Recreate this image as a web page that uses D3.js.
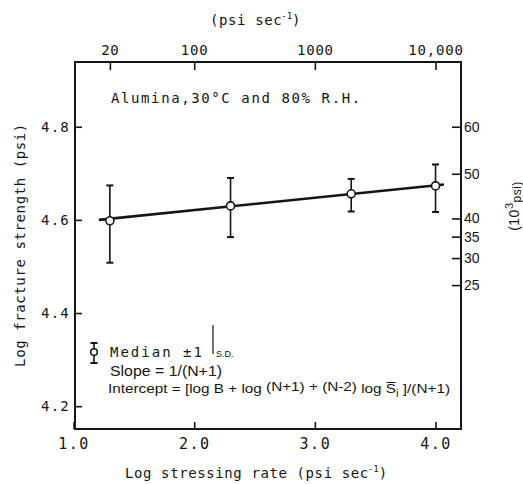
<!DOCTYPE html>
<html>
<head>
<meta charset="utf-8">
<script src="https://cdn.jsdelivr.net/npm/d3@7"></script>
<style>
	body { margin: 0; background: #fff; }
	svg text { fill: #151515; }
	.mono { font-family: "DejaVu Sans Mono", "Liberation Mono", monospace; }
	.sans { font-family: "Liberation Sans", "DejaVu Sans", sans-serif; }
	.axis path.domain { display: none; }
	.axis line { stroke: #151515; stroke-width: 1.6; }
</style>
</head>
<body>
<div id="chart"></div>
<script>
// median log fracture strength and +/- 1 S.D. at each stressing rate
const logRate = [1.301, 2.301, 3.301, 4.0];
const medianStrength = [4.598, 4.630, 4.656, 4.673];
const sdHigh = [4.674, 4.690, 4.688, 4.719];
const sdLow = [4.508, 4.563, 4.618, 4.617];

// fitted line (end points)
const fitRate = [1.21, 4.07];
const fitStrength = [4.600, 4.676];

// ticks
const bottomTicks = [1.0, 2.0, 3.0, 4.0];
const leftTicks = [4.2, 4.4, 4.6, 4.8];
const topTicks = [20, 100, 1000, 10000];
const topTickLabels = ["20", "100", "1000", "10,000"];
// right axis (10^3 psi) - labels and where they sit on the log strength scale, as drawn
const rightTickLabels = ["60", "50", "40", "35", "30", "25"];
const rightTickAt = [4.800, 4.699, 4.603, 4.564, 4.518, 4.460];

const width = 523, height = 484;
const margin = { top: 62, right: 62, bottom: 55, left: 75 };
const innerW = width - margin.left - margin.right;
const innerH = height - margin.top - margin.bottom;

const svg = d3.select("#chart").append("svg")
	.attr("width", width)
	.attr("height", height);

const x = d3.scaleLinear()
	.domain([1.012, 4.211])
	.range([margin.left, margin.left + innerW]);

const xTop = d3.scaleLog()
	.domain([Math.pow(10, 1.012), Math.pow(10, 4.211)])
	.range([margin.left, margin.left + innerW]);

const y = d3.scaleLinear()
	.domain([4.151, 4.939])
	.range([margin.top + innerH, margin.top]);

// axes (ticks point inward)
svg.append("g")
	.attr("class", "axis mono")
	.attr("transform", "translate(0," + (margin.top + innerH) + ")")
	.call(d3.axisBottom(x).tickValues(bottomTicks).tickSize(-7).tickPadding(9).tickFormat(d3.format(".1f")))
	.call(g => g.selectAll("text").attr("font-size", 15).attr("letter-spacing", 1.5).attr("font-family", null));

svg.append("g")
	.attr("class", "axis mono")
	.attr("transform", "translate(" + margin.left + ",0)")
	.call(d3.axisLeft(y).tickValues(leftTicks).tickSize(-7).tickPadding(5).tickFormat(d3.format(".1f")))
	.call(g => g.selectAll("text").attr("font-size", 14).attr("letter-spacing", 1.2).attr("font-family", null));

svg.append("g")
	.attr("class", "axis mono")
	.attr("transform", "translate(0," + margin.top + ")")
	.call(d3.axisTop(xTop).tickValues(topTicks).tickSize(-8).tickPadding(7).tickFormat((d, i) => topTickLabels[i]))
	.call(g => g.selectAll("text").attr("font-size", 14).attr("letter-spacing", 0.8).attr("font-family", null));

svg.append("g")
	.attr("class", "axis sans")
	.attr("transform", "translate(" + (margin.left + innerW) + ",0)")
	.call(d3.axisRight(y).tickValues(rightTickAt).tickSize(-9).tickPadding(3).tickFormat((d, i) => rightTickLabels[i]))
	.call(g => g.selectAll("text").attr("font-size", 14).attr("font-family", null));

// frame
svg.append("rect")
	.attr("x", margin.left)
	.attr("y", margin.top)
	.attr("width", innerW)
	.attr("height", innerH)
	.attr("fill", "none")
	.attr("stroke", "#151515")
	.attr("stroke-width", 2);

// fitted line
svg.append("line")
	.attr("x1", x(fitRate[0])).attr("y1", y(fitStrength[0]))
	.attr("x2", x(fitRate[1])).attr("y2", y(fitStrength[1]))
	.attr("stroke", "#151515")
	.attr("stroke-width", 2.6);

// error bars
const pts = logRate.map((r, i) => ({ r: r, m: medianStrength[i], hi: sdHigh[i], lo: sdLow[i] }));

const bars = svg.append("g").attr("stroke", "#151515");
bars.selectAll(".bar").data(pts).enter().append("line")
	.attr("x1", d => x(d.r)).attr("x2", d => x(d.r))
	.attr("y1", d => y(d.lo)).attr("y2", d => y(d.hi))
	.attr("stroke-width", 1.6);
bars.selectAll(".capHi").data(pts).enter().append("line")
	.attr("x1", d => x(d.r) - 3.5).attr("x2", d => x(d.r) + 3.5)
	.attr("y1", d => y(d.hi)).attr("y2", d => y(d.hi))
	.attr("stroke-width", 2);
bars.selectAll(".capLo").data(pts).enter().append("line")
	.attr("x1", d => x(d.r) - 3.5).attr("x2", d => x(d.r) + 3.5)
	.attr("y1", d => y(d.lo)).attr("y2", d => y(d.lo))
	.attr("stroke-width", 2);

svg.selectAll(".pt").data(pts).enter().append("circle")
	.attr("cx", d => x(d.r))
	.attr("cy", d => y(d.m))
	.attr("r", 4)
	.attr("fill", "#fff")
	.attr("stroke", "#151515")
	.attr("stroke-width", 1.6);

// title inside plot
svg.append("text")
	.attr("class", "mono")
	.attr("x", 111).attr("y", 103)
	.attr("font-size", 14)
	.attr("letter-spacing", 1.6)
	.text("Alumina,30°C and 80% R.H.");

// top axis title
const topTitle = svg.append("text")
	.attr("class", "mono")
	.attr("x", 210).attr("y", 25)
	.attr("font-size", 14)
	.attr("letter-spacing", 0.6);
topTitle.append("tspan").text("(psi sec");
topTitle.append("tspan").attr("dx", -1).attr("dy", -6).attr("font-size", 9).attr("letter-spacing", 0).text("-1");
topTitle.append("tspan").attr("dy", 6).text(")");

// bottom axis title
const xTitle = svg.append("text")
	.attr("class", "mono")
	.attr("x", 125).attr("y", 478)
	.attr("font-size", 14)
	.attr("letter-spacing", 0.6);
xTitle.append("tspan").text("Log stressing rate (psi sec");
xTitle.append("tspan").attr("dx", -1).attr("dy", -6).attr("font-size", 9).attr("letter-spacing", 0).text("-1");
xTitle.append("tspan").attr("dy", 6).text(")");

// left axis title
svg.append("text")
	.attr("class", "mono")
	.attr("transform", "translate(25,245) rotate(-90)")
	.attr("text-anchor", "middle")
	.attr("font-size", 14)
	.attr("letter-spacing", 0.6)
	.text("Log fracture strength (psi)");

// right axis title
const rTitle = svg.append("text")
	.attr("class", "sans")
	.attr("transform", "translate(519,206) rotate(-90)")
	.attr("text-anchor", "middle")
	.attr("font-size", 14)
	.attr("letter-spacing", 0.5);
rTitle.append("tspan").text("(10");
rTitle.append("tspan").attr("dy", -6).attr("font-size", 11).text("3");
rTitle.append("tspan").attr("dy", 8).attr("font-size", 12).text("psi)");

// legend
const lx = 94, ly = 352;
svg.append("line")
	.attr("x1", lx).attr("x2", lx).attr("y1", ly - 9).attr("y2", ly + 11)
	.attr("stroke", "#151515").attr("stroke-width", 1.6);
[ly - 9, ly + 11].forEach(v => {
	svg.append("line")
		.attr("x1", lx - 3.5).attr("x2", lx + 3.5).attr("y1", v).attr("y2", v)
		.attr("stroke", "#151515").attr("stroke-width", 2);
});
svg.append("circle")
	.attr("cx", lx).attr("cy", ly).attr("r", 3.3)
	.attr("fill", "#fff").attr("stroke", "#151515").attr("stroke-width", 1.5);

svg.append("text")
	.attr("class", "mono")
	.attr("x", 110).attr("y", 357)
	.attr("font-size", 14)
	.attr("letter-spacing", 2)
	.text("Median ±1");

svg.append("line")
	.attr("x1", 213).attr("x2", 213).attr("y1", 325).attr("y2", 354)
	.attr("stroke", "#151515").attr("stroke-width", 1.2);

svg.append("text")
	.attr("class", "sans")
	.attr("x", 216).attr("y", 357)
	.attr("font-size", 9)
	.text("S.D.");

svg.append("text")
	.attr("class", "sans")
	.attr("x", 110).attr("y", 376)
	.attr("font-size", 14)
	.attr("textLength", 112)
	.attr("lengthAdjust", "spacingAndGlyphs")
	.text("Slope = 1/(N+1)");

const icpt = svg.append("text")
	.attr("class", "sans")
	.attr("x", 108).attr("y", 393)
	.attr("font-size", 13.5);
icpt.append("tspan").text("Intercept = [log B + log ");
icpt.append("tspan").attr("dy", -2).text("(N+1) + (N-2)");
icpt.append("tspan").attr("dy", 2).text(" log S\u0305");
icpt.append("tspan").attr("dy", 4).attr("font-size", 10).text("i");
icpt.append("tspan").attr("dy", -4).text(" ]/(N+1)");
icpt.attr("textLength", 342).attr("lengthAdjust", "spacingAndGlyphs");
</script>
</body>
</html>
